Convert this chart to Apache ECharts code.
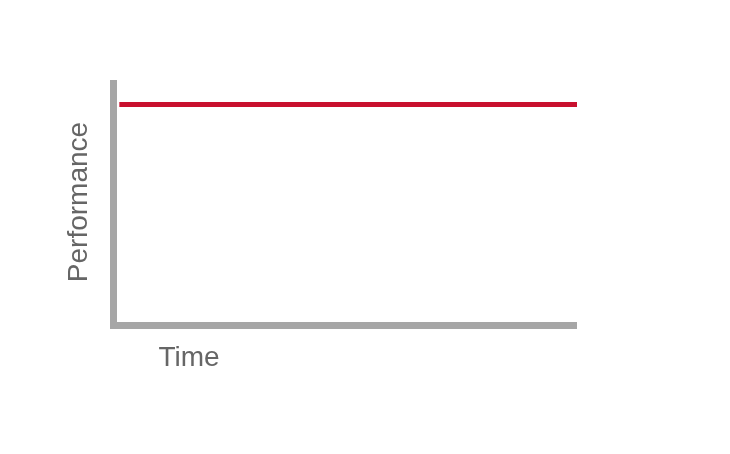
<!DOCTYPE html>
<html>
<head>
<meta charset="utf-8">
<script src="https://cdn.jsdelivr.net/npm/echarts@6/dist/echarts.min.js"></script>
<style>
html,body{margin:0;padding:0;background:#fff;}
#main{width:730px;height:454px;}
</style>
</head>
<body>
<div id="main"></div>
<script>
// Data
const timeValues = [2, 100];
const performanceValues = [90, 90];
const xAxisTitle = 'Time';
const yAxisTitle = 'Performance';

const chart = echarts.init(document.getElementById('main'), null, {renderer: 'canvas'});
const seriesData = timeValues.map((t, i) => [t, performanceValues[i]]);

chart.setOption({
  animation: false,
  backgroundColor: '#ffffff',
  grid: {left: 110, right: 153, top: 80, bottom: 129},
  xAxis: {
    type: 'value', min: 0, max: 100,
    axisLine: {show: true, lineStyle: {color: '#a6a6a6', width: 7, cap: 'butt'}},
    axisTick: {show: false}, axisLabel: {show: false}, splitLine: {show: false}
  },
  yAxis: {
    type: 'value', min: 0, max: 100, offset: -3.5,
    axisLine: {show: true, lineStyle: {color: '#a6a6a6', width: 7, cap: 'butt'}},
    axisTick: {show: false}, axisLabel: {show: false}, splitLine: {show: false}
  },
  series: [{
    type: 'line',
    data: seriesData,
    symbol: 'none',
    lineStyle: {color: '#c8102e', width: 5, cap: 'butt'},
    clip: false
  }],
  graphic: [
    {type: 'text', x: 189, y: 358,
     style: {text: xAxisTitle, fill: '#666666', font: '28px "Liberation Sans", Arial, sans-serif', align: 'center', verticalAlign: 'middle'}},
    {type: 'text', x: 79, y: 202, rotation: Math.PI / 2,
     style: {text: yAxisTitle, fill: '#666666', font: '28px "Liberation Sans", Arial, sans-serif', align: 'center', verticalAlign: 'middle'}}
  ]
});
</script>
</body>
</html>
